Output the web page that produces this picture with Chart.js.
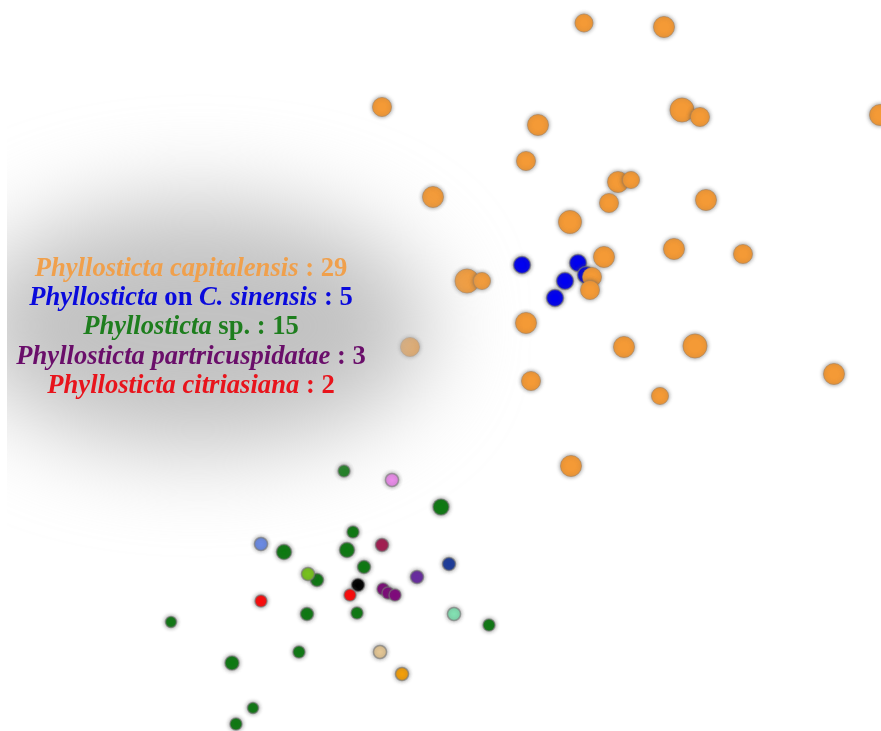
<!DOCTYPE html>
<html>
<head>
<meta charset="utf-8">
<title>Phyllosticta isolates – ordination</title>
<script src="https://cdn.jsdelivr.net/npm/chart.js@4/dist/chart.umd.min.js"></script>
<style>
  html, body { margin: 0; padding: 0; background: #ffffff; }
  #wrap { width: 881px; height: 731px; }
</style>
</head>
<body>
<div id="wrap"><canvas id="chart" width="881" height="731"></canvas></div>
<script>
// Ordination scores (axis 1, axis 2) for each isolate group
const capitalensisX = [7.20, 11.20, -2.90, 4.90, 12.10, 13.00, 22.00, 4.30, -0.35, 8.90, 9.55, 8.45, 6.50, 13.30, 8.20, 11.70, 15.15, 1.35, 2.10, 7.60, 7.50, 4.30, -1.50, 9.20, 12.75, 19.70, 4.55, 11.00, 6.55];
const capitalensisY = [17.15, 16.95, 12.95, 12.05, 12.80, 12.45, 12.55, 10.25, 8.45, 9.20, 9.30, 8.15, 7.20, 8.30, 5.45, 5.85, 5.60, 4.25, 4.25, 4.45, 3.80, 2.15, 0.95, 0.95, 1.00, -0.40, -0.75, -1.50, -5.00];

const sinensisX = [4.10, 6.90, 6.25, 5.75, 7.30];
const sinensisY = [5.05, 5.15, 4.25, 3.40, 4.55];

const spX = [-4.80, 0.05, -4.35, -7.80, -4.65, -3.80, -6.15, -13.45, -6.65, -4.15, 2.45, -7.05, -10.40, -9.35, -10.20];
const spY = [-5.25, -7.05, -8.30, -9.30, -9.20, -10.05, -10.70, -12.80, -12.40, -12.35, -12.95, -14.30, -14.85, -17.10, -17.90];

const partricuspidataeX = [-2.85, -2.60, -2.25];
const partricuspidataeY = [-11.15, -11.35, -11.45];

const citriasianaX = [-4.50, -8.95];
const citriasianaY = [-11.45, -11.75];

// Reference strains of other species
const otherX = [-2.40, -8.95, -2.90, 0.45, -6.60, -1.15, -4.10, 0.70, -3.00, -1.90];
const otherY = [-5.70, -8.90, -8.95, -9.90, -10.40, -10.55, -10.95, -12.40, -14.30, -15.40];

// Marker styling
const capitalensisRadius = [9, 10.5, 9.5, 10.5, 12, 9.5, 10.5, 9.5, 10.5, 10.5, 8.5, 9.5, 11.5, 10.5, 10.5, 10.5, 9.5, 12, 8.5, 9.5, 9.5, 10.5, 9.5, 10.5, 12, 10.5, 9.5, 8.5, 10.5];
const spRadius = [6, 8, 6, 7.5, 7.5, 6.5, 6.5, 5.5, 6.5, 6, 6, 6, 7, 5.5, 6];
const otherColors = ['#EE8CEE', '#6C8CE6', '#A51E52', '#1C3C9C', '#78C41E', '#6A2CA2', '#000000', '#84E2B4', '#E6C896', '#F5A00A'];

const toPoints = (xs, ys) => xs.map((x, i) => ({ x: x, y: ys[i] }));

// Legend text lines: [text, italic] segments
const legendLines = [
  { color: '#F0A04C', parts: [['Phyllosticta capitalensis', true], [' : ' + capitalensisX.length, false]] },
  { color: '#0A0ADC', parts: [['Phyllosticta', true], [' on ', false], ['C. sinensis', true], [' : ' + sinensisX.length, false]] },
  { color: '#1E7E1E', parts: [['Phyllosticta', true], [' sp. : ' + spX.length, false]] },
  { color: '#6A0E6A', parts: [['Phyllosticta partricuspidatae', true], [' : ' + partricuspidataeX.length, false]] },
  { color: '#E8141C', parts: [['Phyllosticta citriasiana', true], [' : ' + citriasianaX.length, false]] }
];

// Soft grey glow behind the legend block
const hazePlugin = {
  id: 'haze',
  afterDatasetsDraw(chart) {
    const ctx = chart.ctx;
    ctx.save();
    ctx.beginPath();
    ctx.rect(7, 0, chart.width - 7, chart.height);
    ctx.clip();
    ctx.filter = 'blur(46px)';
    ctx.fillStyle = 'rgba(192,192,192,0.96)';
    ctx.beginPath();
    ctx.ellipse(198, 326, 232, 124, 0, 0, Math.PI * 2);
    ctx.fill();
    ctx.restore();
  }
};

// Centered multi-style legend text
const legendTextPlugin = {
  id: 'legendText',
  afterDraw(chart) {
    const ctx = chart.ctx;
    const cx = 191, y0 = 269, step = 29.3;
    const size = 26.6;
    const fam = '"Liberation Serif", "Times New Roman", serif';
    ctx.save();
    ctx.textBaseline = 'middle';
    ctx.textAlign = 'left';
    legendLines.forEach((line, li) => {
      let total = 0;
      line.parts.forEach(p => {
        ctx.font = (p[1] ? 'italic ' : '') + 'bold ' + size + 'px ' + fam;
        total += ctx.measureText(p[0]).width;
      });
      let x = cx - total / 2;
      const y = y0 + li * step;
      ctx.fillStyle = line.color;
      line.parts.forEach(p => {
        ctx.font = (p[1] ? 'italic ' : '') + 'bold ' + size + 'px ' + fam;
        ctx.fillText(p[0], x, y);
        x += ctx.measureText(p[0]).width;
      });
    });
    ctx.restore();
  }
};

// Grey halo around markers
const haloPlugin = {
  id: 'halo',
  beforeDatasetDraw(chart) {
    chart.ctx.save();
    chart.ctx.shadowColor = 'rgba(80,80,80,0.7)';
    chart.ctx.shadowBlur = 4;
  },
  afterDatasetDraw(chart) {
    chart.ctx.restore();
  }
};

new Chart(document.getElementById('chart'), {
  type: 'scatter',
  data: {
    datasets: [
      {
        label: 'Phyllosticta citriasiana',
        data: toPoints(citriasianaX, citriasianaY),
        backgroundColor: '#FF0A0A',
        borderColor: 'rgba(120,120,120,0.6)',
        borderWidth: 1.5,
        pointRadius: 6,
        order: 1
      },
      {
        label: 'Phyllosticta partricuspidatae',
        data: toPoints(partricuspidataeX, partricuspidataeY),
        backgroundColor: '#82087E',
        borderColor: 'rgba(120,120,120,0.6)',
        borderWidth: 1.5,
        pointRadius: 6,
        order: 2
      },
      {
        label: 'Other species',
        data: toPoints(otherX, otherY),
        backgroundColor: otherColors,
        borderColor: 'rgba(120,120,120,0.6)',
        borderWidth: 1.5,
        pointRadius: 6.5,
        order: 3
      },
      {
        label: 'Phyllosticta sp.',
        data: toPoints(spX, spY),
        backgroundColor: '#0E7A12',
        borderColor: 'rgba(120,120,120,0.6)',
        borderWidth: 1.5,
        pointRadius: spRadius,
        order: 4
      },
      {
        label: 'Phyllosticta capitalensis',
        data: toPoints(capitalensisX, capitalensisY),
        backgroundColor: '#F49A36',
        borderColor: 'rgba(170,130,90,0.6)',
        borderWidth: 1,
        pointRadius: capitalensisRadius,
        order: 5
      },
      {
        label: 'Phyllosticta on C. sinensis',
        data: toPoints(sinensisX, sinensisY),
        backgroundColor: '#0000F0',
        borderColor: 'rgba(120,120,120,0.65)',
        borderWidth: 1.5,
        pointRadius: 8.5,
        order: 6
      }
    ]
  },
  options: {
    responsive: false,
    animation: false,
    devicePixelRatio: 1,
    layout: { padding: 0, autoPadding: false },
    scales: {
      x: { type: 'linear', display: false, min: -22.0, max: 22.05 },
      y: { type: 'linear', display: false, min: -18.25, max: 18.3 }
    },
    plugins: {
      legend: { display: false },
      tooltip: { enabled: false },
      title: { display: false }
    },
    elements: { point: { hoverRadius: 0 } }
  },
  plugins: [haloPlugin, hazePlugin, legendTextPlugin]
});
</script>
</body>
</html>
